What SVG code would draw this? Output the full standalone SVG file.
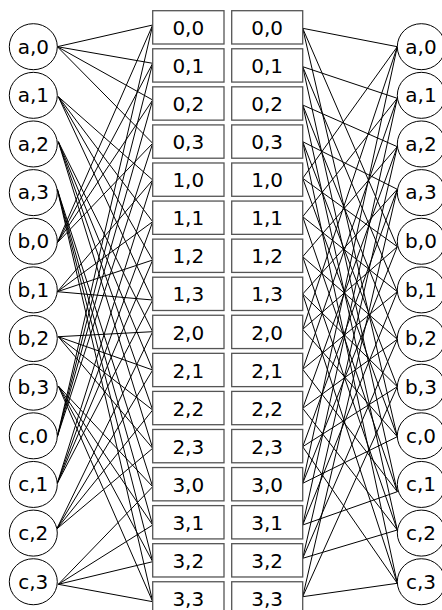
<svg xmlns="http://www.w3.org/2000/svg" width="442" height="610" viewBox="0 0 442 610">
<style>
.e{stroke:#000;stroke-width:1;fill:none}
.c{fill:#fff;stroke:#000;stroke-width:1}
.r{fill:#fff;stroke:#555;stroke-width:1.3}
.t{font-family:"DejaVu Sans",sans-serif;font-size:20px;text-anchor:middle;fill:#000}
</style>
<rect width="442" height="610" fill="#fff"/>
<g id="connectors" class="e">
<path d="M57.3 46.7L152.7 25M57.3 46.7L152.7 63.3M57.3 46.7L152.7 100M57.3 46.7L152.7 143.3"/>
<path d="M58.3 96.7L152.7 180M58.3 96.7L152.7 221.7M58.3 96.7L152.7 260M58.3 96.7L152.7 300"/>
<path d="M58.3 141.7L152.7 331.7M58.3 141.7L152.7 370M58.3 141.7L152.7 410M58.3 141.7L152.7 448.3"/>
<path d="M57.3 189.3L152.7 486.7M57.3 189.3L152.7 525M57.3 189.3L152.7 561.7M57.3 189.3L152.7 601.7"/>
<path d="M57.3 242.7L152.7 25M57.3 242.7L152.7 63.3M57.3 242.7L152.7 100M57.3 242.7L152.7 143.3"/>
<path d="M57.3 291.7L152.7 180M57.3 291.7L152.7 221.7M57.3 291.7L152.7 260M57.3 291.7L152.7 300"/>
<path d="M58.3 336.7L152.7 331.7M58.3 336.7L152.7 370M58.3 336.7L152.7 410M58.3 336.7L152.7 448.3"/>
<path d="M58.3 386L152.7 486.7M58.3 386L152.7 525M58.3 386L152.7 561.7M58.3 386L152.7 601.7"/>
<path d="M57.3 436.7L152.7 25M57.3 436.7L152.7 63.3M57.3 436.7L152.7 100M57.3 436.7L152.7 143.3"/>
<path d="M57.3 483.3L152.7 180M57.3 483.3L152.7 221.7M57.3 483.3L152.7 260M57.3 483.3L152.7 300"/>
<path d="M56.7 529L152.7 331.7M56.7 529L152.7 370M56.7 529L152.7 410M56.7 529L152.7 448.3"/>
<path d="M58.3 584.3L152.7 486.7M58.3 584.3L152.7 525M58.3 584.3L152.7 561.7M58.3 584.3L152.7 601.7"/>
<path d="M302.7 28.3L397.3 46.7M302.7 28.3L397.3 246.7M302.7 28.3L397.3 436.7"/>
<path d="M302.7 66.7L397.3 98.3M302.7 66.7L397.3 291.7M302.7 66.7L397.3 491.7"/>
<path d="M302.7 105L397.3 146.7M302.7 105L397.3 339.3M302.7 105L397.3 530"/>
<path d="M302.7 141.7L397.3 189.3M302.7 141.7L397.3 386.7M302.7 141.7L397.3 583.3"/>
<path d="M302.7 178.3L397.3 46.7M302.7 178.3L397.3 246.7M302.7 178.3L397.3 436.7"/>
<path d="M302.7 216.7L397.3 98.3M302.7 216.7L397.3 291.7M302.7 216.7L397.3 491.7"/>
<path d="M302.7 256.7L397.3 146.7M302.7 256.7L397.3 339.3M302.7 256.7L397.3 530"/>
<path d="M302.7 294L397.3 189.3M302.7 294L397.3 386.7M302.7 294L397.3 583.3"/>
<path d="M302.7 329.3L397.3 46.7M302.7 329.3L397.3 246.7M302.7 329.3L397.3 436.7"/>
<path d="M302.7 369.3L397.3 98.3M302.7 369.3L397.3 291.7M302.7 369.3L397.3 491.7"/>
<path d="M302.7 408.3L397.3 146.7M302.7 408.3L397.3 339.3M302.7 408.3L397.3 530"/>
<path d="M302.7 446.7L397.3 189.3M302.7 446.7L397.3 386.7M302.7 446.7L397.3 583.3"/>
<path d="M302.7 483.3L397.3 46.7M302.7 483.3L397.3 246.7M302.7 483.3L397.3 436.7"/>
<path d="M302.7 525L397.3 98.3M302.7 525L397.3 291.7M302.7 525L397.3 491.7"/>
<path d="M302.7 558.3L397.3 146.7M302.7 558.3L397.3 339.3M302.7 558.3L397.3 530"/>
<path d="M302.7 596.7L397.3 189.3M302.7 596.7L397.3 386.7M302.7 596.7L397.3 583.3"/>
</g>
<g id="in_a0"><ellipse class="c" cx="33.3" cy="46.7" rx="24" ry="23"/><text class="t" x="33.3" y="53.5">a,0</text></g>
<g id="in_a1"><ellipse class="c" cx="33.3" cy="95.34" rx="24" ry="23"/><text class="t" x="33.3" y="102.1">a,1</text></g>
<g id="in_a2"><ellipse class="c" cx="33.3" cy="143.98" rx="24" ry="23"/><text class="t" x="33.3" y="150.8">a,2</text></g>
<g id="in_a3"><ellipse class="c" cx="33.3" cy="192.62" rx="24" ry="23"/><text class="t" x="33.3" y="199.4">a,3</text></g>
<g id="in_b0"><ellipse class="c" cx="33.3" cy="241.26" rx="24" ry="23"/><text class="t" x="33.3" y="248.1">b,0</text></g>
<g id="in_b1"><ellipse class="c" cx="33.3" cy="289.9" rx="24" ry="23"/><text class="t" x="33.3" y="296.7">b,1</text></g>
<g id="in_b2"><ellipse class="c" cx="33.3" cy="338.54" rx="24" ry="23"/><text class="t" x="33.3" y="345.3">b,2</text></g>
<g id="in_b3"><ellipse class="c" cx="33.3" cy="387.18" rx="24" ry="23"/><text class="t" x="33.3" y="394">b,3</text></g>
<g id="in_c0"><ellipse class="c" cx="33.3" cy="435.82" rx="24" ry="23"/><text class="t" x="33.3" y="442.6">c,0</text></g>
<g id="in_c1"><ellipse class="c" cx="33.3" cy="484.46" rx="24" ry="23"/><text class="t" x="33.3" y="491.3">c,1</text></g>
<g id="in_c2"><ellipse class="c" cx="33.3" cy="533.1" rx="24" ry="23"/><text class="t" x="33.3" y="539.9">c,2</text></g>
<g id="in_c3"><ellipse class="c" cx="33.3" cy="581.74" rx="24" ry="23"/><text class="t" x="33.3" y="588.5">c,3</text></g>
<g id="m1_00"><rect class="r" x="152.7" y="10.7" width="71.3" height="33.3"/><text class="t" x="188.3" y="35">0,0</text></g>
<g id="m1_01"><rect class="r" x="152.7" y="48.77" width="71.3" height="33.3"/><text class="t" x="188.3" y="73.07">0,1</text></g>
<g id="m1_02"><rect class="r" x="152.7" y="86.84" width="71.3" height="33.3"/><text class="t" x="188.3" y="111.14">0,2</text></g>
<g id="m1_03"><rect class="r" x="152.7" y="124.91" width="71.3" height="33.3"/><text class="t" x="188.3" y="149.21">0,3</text></g>
<g id="m1_10"><rect class="r" x="152.7" y="162.98" width="71.3" height="33.3"/><text class="t" x="188.3" y="187.28">1,0</text></g>
<g id="m1_11"><rect class="r" x="152.7" y="201.05" width="71.3" height="33.3"/><text class="t" x="188.3" y="225.35">1,1</text></g>
<g id="m1_12"><rect class="r" x="152.7" y="239.12" width="71.3" height="33.3"/><text class="t" x="188.3" y="263.42">1,2</text></g>
<g id="m1_13"><rect class="r" x="152.7" y="277.19" width="71.3" height="33.3"/><text class="t" x="188.3" y="301.49">1,3</text></g>
<g id="m1_20"><rect class="r" x="152.7" y="315.26" width="71.3" height="33.3"/><text class="t" x="188.3" y="339.56">2,0</text></g>
<g id="m1_21"><rect class="r" x="152.7" y="353.33" width="71.3" height="33.3"/><text class="t" x="188.3" y="377.63">2,1</text></g>
<g id="m1_22"><rect class="r" x="152.7" y="391.4" width="71.3" height="33.3"/><text class="t" x="188.3" y="415.7">2,2</text></g>
<g id="m1_23"><rect class="r" x="152.7" y="429.47" width="71.3" height="33.3"/><text class="t" x="188.3" y="453.77">2,3</text></g>
<g id="m1_30"><rect class="r" x="152.7" y="467.54" width="71.3" height="33.3"/><text class="t" x="188.3" y="491.84">3,0</text></g>
<g id="m1_31"><rect class="r" x="152.7" y="505.61" width="71.3" height="33.3"/><text class="t" x="188.3" y="529.91">3,1</text></g>
<g id="m1_32"><rect class="r" x="152.7" y="543.68" width="71.3" height="33.3"/><text class="t" x="188.3" y="567.98">3,2</text></g>
<g id="m1_33"><rect class="r" x="152.7" y="581.75" width="71.3" height="33.3"/><text class="t" x="188.3" y="606.05">3,3</text></g>
<g id="m2_00"><rect class="r" x="231.7" y="10.7" width="71" height="33.3"/><text class="t" x="267.2" y="35">0,0</text></g>
<g id="m2_01"><rect class="r" x="231.7" y="48.77" width="71" height="33.3"/><text class="t" x="267.2" y="73.07">0,1</text></g>
<g id="m2_02"><rect class="r" x="231.7" y="86.84" width="71" height="33.3"/><text class="t" x="267.2" y="111.14">0,2</text></g>
<g id="m2_03"><rect class="r" x="231.7" y="124.91" width="71" height="33.3"/><text class="t" x="267.2" y="149.21">0,3</text></g>
<g id="m2_10"><rect class="r" x="231.7" y="162.98" width="71" height="33.3"/><text class="t" x="267.2" y="187.28">1,0</text></g>
<g id="m2_11"><rect class="r" x="231.7" y="201.05" width="71" height="33.3"/><text class="t" x="267.2" y="225.35">1,1</text></g>
<g id="m2_12"><rect class="r" x="231.7" y="239.12" width="71" height="33.3"/><text class="t" x="267.2" y="263.42">1,2</text></g>
<g id="m2_13"><rect class="r" x="231.7" y="277.19" width="71" height="33.3"/><text class="t" x="267.2" y="301.49">1,3</text></g>
<g id="m2_20"><rect class="r" x="231.7" y="315.26" width="71" height="33.3"/><text class="t" x="267.2" y="339.56">2,0</text></g>
<g id="m2_21"><rect class="r" x="231.7" y="353.33" width="71" height="33.3"/><text class="t" x="267.2" y="377.63">2,1</text></g>
<g id="m2_22"><rect class="r" x="231.7" y="391.4" width="71" height="33.3"/><text class="t" x="267.2" y="415.7">2,2</text></g>
<g id="m2_23"><rect class="r" x="231.7" y="429.47" width="71" height="33.3"/><text class="t" x="267.2" y="453.77">2,3</text></g>
<g id="m2_30"><rect class="r" x="231.7" y="467.54" width="71" height="33.3"/><text class="t" x="267.2" y="491.84">3,0</text></g>
<g id="m2_31"><rect class="r" x="231.7" y="505.61" width="71" height="33.3"/><text class="t" x="267.2" y="529.91">3,1</text></g>
<g id="m2_32"><rect class="r" x="231.7" y="543.68" width="71" height="33.3"/><text class="t" x="267.2" y="567.98">3,2</text></g>
<g id="m2_33"><rect class="r" x="231.7" y="581.75" width="71" height="33.3"/><text class="t" x="267.2" y="606.05">3,3</text></g>
<g id="out_a0"><ellipse class="c" cx="421.3" cy="46.7" rx="24" ry="23"/><text class="t" x="421" y="53.5">a,0</text></g>
<g id="out_a1"><ellipse class="c" cx="421.3" cy="95.34" rx="24" ry="23"/><text class="t" x="421" y="102.1">a,1</text></g>
<g id="out_a2"><ellipse class="c" cx="421.3" cy="143.98" rx="24" ry="23"/><text class="t" x="421" y="150.8">a,2</text></g>
<g id="out_a3"><ellipse class="c" cx="421.3" cy="192.62" rx="24" ry="23"/><text class="t" x="421" y="199.4">a,3</text></g>
<g id="out_b0"><ellipse class="c" cx="421.3" cy="241.26" rx="24" ry="23"/><text class="t" x="421" y="248.1">b,0</text></g>
<g id="out_b1"><ellipse class="c" cx="421.3" cy="289.9" rx="24" ry="23"/><text class="t" x="421" y="296.7">b,1</text></g>
<g id="out_b2"><ellipse class="c" cx="421.3" cy="338.54" rx="24" ry="23"/><text class="t" x="421" y="345.3">b,2</text></g>
<g id="out_b3"><ellipse class="c" cx="421.3" cy="387.18" rx="24" ry="23"/><text class="t" x="421" y="394">b,3</text></g>
<g id="out_c0"><ellipse class="c" cx="421.3" cy="435.82" rx="24" ry="23"/><text class="t" x="421" y="442.6">c,0</text></g>
<g id="out_c1"><ellipse class="c" cx="421.3" cy="484.46" rx="24" ry="23"/><text class="t" x="421" y="491.3">c,1</text></g>
<g id="out_c2"><ellipse class="c" cx="421.3" cy="533.1" rx="24" ry="23"/><text class="t" x="421" y="539.9">c,2</text></g>
<g id="out_c3"><ellipse class="c" cx="421.3" cy="581.74" rx="24" ry="23"/><text class="t" x="421" y="588.5">c,3</text></g>
</svg>
